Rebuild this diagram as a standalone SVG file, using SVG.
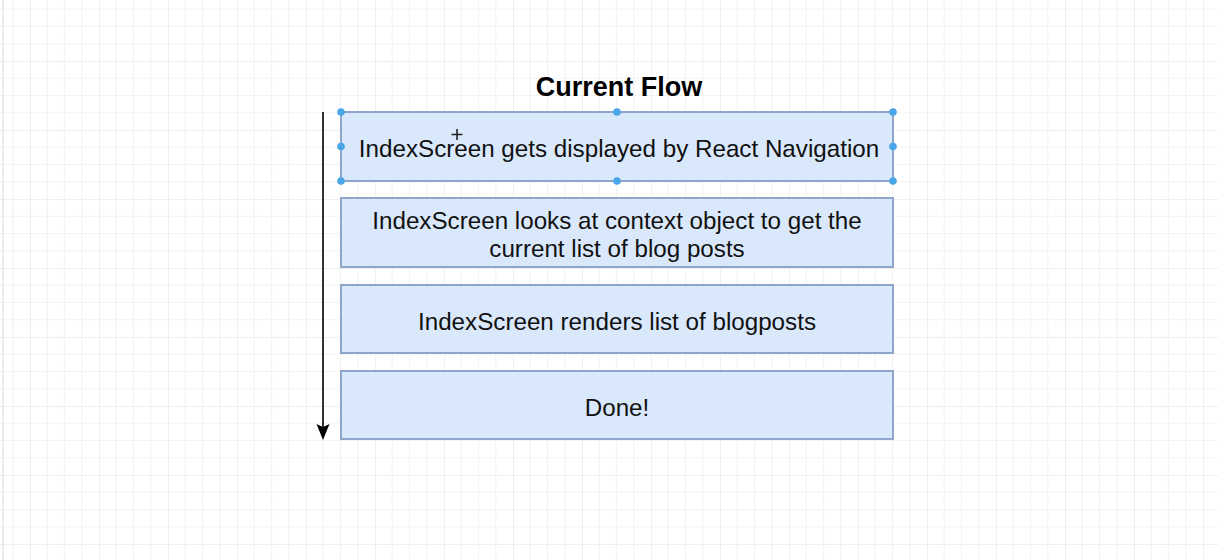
<svg xmlns="http://www.w3.org/2000/svg" width="1218" height="560" viewBox="0 0 1218 560">
  <style>
    .box { fill: #dae8fc; stroke: #8ea6cc; stroke-width: 2; }
    .lbl { font-family: "Liberation Sans", Arial, sans-serif; font-size: 24.2px; fill: #111; text-anchor: middle; }
    .title { font-family: "Liberation Sans", Arial, sans-serif; font-size: 27px; font-weight: bold; fill: #000; text-anchor: middle; }
    .handle { fill: #4aa6e6; }
  </style>
  <defs>
    <pattern id="grid" patternUnits="userSpaceOnUse" x="30" y="-8" width="69" height="69">
      <path d="M17.25 0V69M34.5 0V69M51.75 0V69M0 17.25H69M0 34.5H69M0 51.75H69" stroke="#f3f3f3" stroke-width="1.2" fill="none"/>
      <path d="M0 0V69M0 0H69" stroke="#eaeaea" stroke-width="1.5" fill="none"/>
    </pattern>
  </defs>
  <rect width="1218" height="560" fill="#fff"/>
  <rect width="1218" height="560" fill="url(#grid)"/>
  <line x1="3" y1="0" x2="3" y2="560" stroke="#e6e6e6" stroke-width="1.5"/>

  <text id="title" class="title" x="619" y="96">Current Flow</text>

  <g id="connectors">
    <line x1="323" y1="112" x2="323" y2="428" stroke="#333" stroke-width="2"/>
    <path d="M316.5 424L323 440L329.5 424L323 427Z" fill="#000"/>
  </g>

  <g id="node1">
    <rect class="box" x="341" y="112" width="552" height="69" stroke="#7fa1cf"/>
    <text class="lbl" x="619" y="157">IndexScreen gets displayed by React Navigation</text>
    <circle class="handle" cx="341" cy="112" r="3.8"/>
    <circle class="handle" cx="617" cy="112" r="3.8"/>
    <circle class="handle" cx="893" cy="112" r="3.8"/>
    <circle class="handle" cx="341" cy="146.5" r="3.8"/>
    <circle class="handle" cx="893" cy="146.5" r="3.8"/>
    <circle class="handle" cx="341" cy="181" r="3.8"/>
    <circle class="handle" cx="617" cy="181" r="3.8"/>
    <circle class="handle" cx="893" cy="181" r="3.8"/>
    <path d="M457 129V140M451.5 134.5H462.5" stroke="#222" stroke-width="1.6"/>
  </g>

  <g id="node2">
    <rect class="box" x="341" y="198" width="552" height="69"/>
    <text class="lbl" x="617" y="229">IndexScreen looks at context object to get the</text>
    <text class="lbl" x="617" y="257">current list of blog posts</text>
  </g>

  <g id="node3">
    <rect class="box" x="341" y="285" width="552" height="68"/>
    <text class="lbl" x="617" y="330">IndexScreen renders list of blogposts</text>
  </g>

  <g id="node4">
    <rect class="box" x="341" y="371" width="552" height="68"/>
    <text class="lbl" x="617" y="416">Done!</text>
  </g>
</svg>
